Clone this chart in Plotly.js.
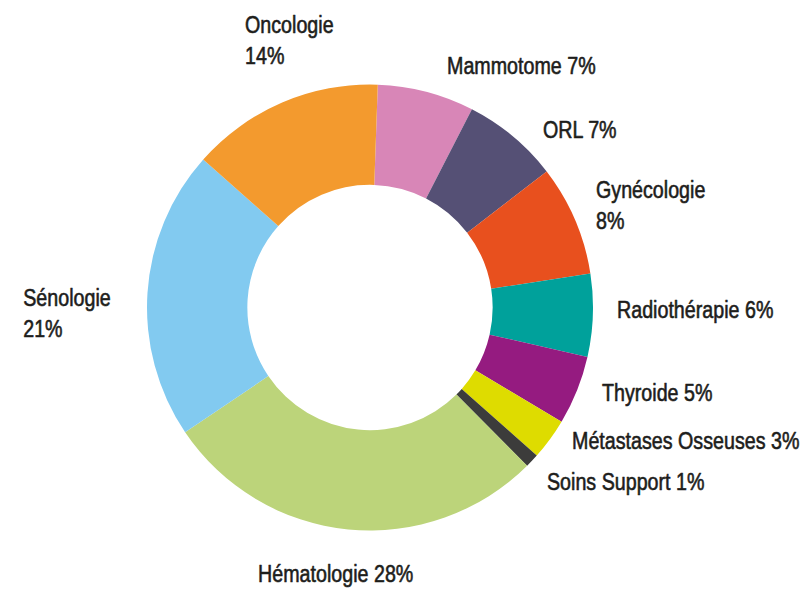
<!DOCTYPE html>
<html>
<head>
<meta charset="utf-8">
<script src="https://cdn.plot.ly/plotly-3.0.1.min.js"></script>
<style>
  html, body { margin: 0; padding: 0; background: #ffffff; }
  #chart { width: 807px; height: 593px; }
</style>
</head>
<body>
<div id="chart"></div>
<script>
// ---- Data ----
const categories = ["Mammotome", "ORL", "Gynécologie", "Radiothérapie", "Thyroide",
                    "Métastases Osseuses", "Soins Support", "Hématologie", "Sénologie", "Oncologie"];
const shares = [7, 7, 8, 6, 5, 3, 1, 28, 21, 14];
const sliceColors = ["#d886b7", "#555075", "#e8501e", "#00a19b", "#951b80",
                     "#dedc00", "#3c3c3b", "#bcd47a", "#82caf0", "#f39a2e"];
// label text layout: whether the value goes to a second line
const twoLine = [false, false, true, false, false, false, false, false, true, true];

// ---- Layout constants ----
const W = 807, H = 593;
const CX = 370, CY = 307.5, R = 223;
const HOLE = 0.55;
const ROT = 2;            // degrees clockwise from 12 o'clock
const FONT = "'Liberation Sans', Arial, sans-serif";
const FONT_SIZE = 24;
const CONDENSE = 0.82;    // horizontal condensing of label glyphs
const TEXT_COLOR = "#1d1d1b";
// per-label anchoring / pixel nudges (style only)
const labelStyle = [
  {xa: "left",   dx: 18.5,  dy: -26.7},
  {xa: "left",   dx: 28,    dy: -6.5},
  {xa: "left",   dx: 19,    dy: -14.5},
  {xa: "left",   dx: 21.8,  dy: -5.3},
  {xa: "left",   dx: 22.6,  dy: 2.4},
  {xa: "left",   dx: 20.3,  dy: 1.5},
  {xa: "left",   dx: 13.3,  dy: 21},
  {xa: "center", dx: -12.7, dy: 44},
  {xa: "right",  dx: -34.5, dy: 20.4},
  {xa: "left",   dx: -39.2, dy: -62.4}
];

const total = shares.reduce((a, b) => a + b, 0);
let cum = 0;
const annotations = categories.map((cat, i) => {
  const mid = cum + shares[i] / 2;
  cum += shares[i];
  const theta = (ROT + mid / total * 360) * Math.PI / 180;
  const px = CX + R * Math.sin(theta);
  const py = CY - R * Math.cos(theta);
  const st = labelStyle[i];
  const txt = cat + (twoLine[i] ? "<br>" : " ") + shares[i] + "%";
  return {
    xref: "paper", yref: "paper",
    x: px / W, y: 1 - py / H,
    xanchor: st.xa, yanchor: "middle",
    xshift: st.dx, yshift: -st.dy,
    text: txt, align: "left", showarrow: false,
    font: {family: FONT, size: FONT_SIZE, color: TEXT_COLOR}
  };
});

const trace = {
  type: "pie",
  labels: categories,
  values: shares,
  sort: false,
  direction: "clockwise",
  rotation: ROT,
  hole: HOLE,
  textinfo: "none",
  hoverinfo: "label+percent",
  marker: {colors: sliceColors, line: {width: 0}},
  domain: {
    x: [(CX - R) / W, (CX + R) / W],
    y: [1 - (CY + R) / H, 1 - (CY - R) / H]
  },
  showlegend: false
};

const layout = {
  width: W, height: H,
  margin: {l: 0, r: 0, t: 0, b: 0},
  paper_bgcolor: "#ffffff",
  plot_bgcolor: "#ffffff",
  showlegend: false,
  annotations: annotations
};

Plotly.newPlot("chart", [trace], layout, {displayModeBar: false, staticPlot: true}).then(gd => {
  // condense the label glyphs horizontally (narrow typeface look), keeping the anchored edge fixed,
  // and thicken the strokes slightly to resemble a medium-weight condensed face
  gd.querySelectorAll("g.annotation").forEach(g => {
    const i = +g.getAttribute("data-index");
    const t = g.querySelector("text");
    if (!t || isNaN(i)) return;
    t.style.transformBox = "fill-box";
    t.style.transformOrigin = labelStyle[i].xa + " center";
    t.style.transform = "scaleX(" + CONDENSE + ")";
    t.style.stroke = TEXT_COLOR;
    t.style.strokeWidth = "0.6px";
    t.style.strokeLinejoin = "round";
  });
});
</script>
</body>
</html>
